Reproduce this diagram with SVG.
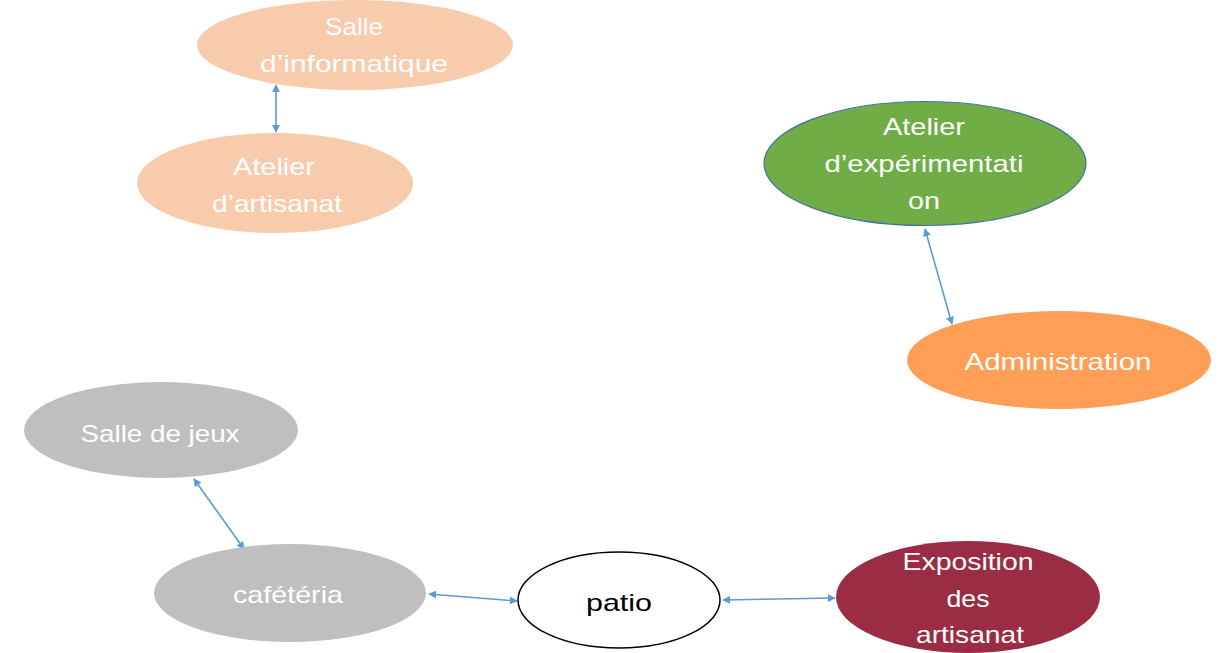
<svg xmlns="http://www.w3.org/2000/svg" width="1221" height="653" viewBox="0 0 1221 653">
<style>
.t{font-family:"Liberation Sans",Arial,sans-serif;font-size:24px;fill:#FFFFFF;text-anchor:middle}
.dk{fill:#000000}
.c{stroke:#5B9BD5;stroke-width:1.6;fill:none;marker-start:url(#ah);marker-end:url(#ah)}
</style>
<defs>
<marker id="ah" viewBox="0 0 10 10" refX="9" refY="5" markerWidth="5" markerHeight="5" orient="auto-start-reverse">
<path d="M0,0 L10,5 L0,10 z" fill="#5B9BD5"/>
</marker>
</defs>
<rect width="1221" height="653" fill="#FFFFFF"/>
<g id="connectors">
<line class="c" x1="276" y1="85" x2="276" y2="132"/>
<line class="c" x1="925" y1="229" x2="952" y2="324"/>
<line class="c" x1="194" y1="479" x2="244" y2="549"/>
<line class="c" x1="429" y1="594" x2="517" y2="601"/>
<line class="c" x1="723" y1="600" x2="835" y2="598"/>
</g>
<g id="salle-informatique">
<ellipse cx="355" cy="45" rx="158" ry="45" fill="#F8CBAD"/>
<text class="t" x="354" y="35" textLength="58" lengthAdjust="spacingAndGlyphs">Salle</text>
<text class="t" x="354" y="72" textLength="188" lengthAdjust="spacingAndGlyphs">d’informatique</text>
</g>
<g id="atelier-artisanat">
<ellipse cx="275" cy="183" rx="138" ry="50" fill="#F8CBAD"/>
<text class="t" x="274" y="175" textLength="82" lengthAdjust="spacingAndGlyphs">Atelier</text>
<text class="t" x="277" y="212" textLength="130" lengthAdjust="spacingAndGlyphs">d’artisanat</text>
</g>
<g id="atelier-experimentation">
<ellipse cx="925" cy="163.5" rx="161" ry="62" fill="#70AD47" stroke="#41719C" stroke-width="1.2"/>
<text class="t" x="924" y="135" textLength="82" lengthAdjust="spacingAndGlyphs">Atelier</text>
<text class="t" x="924" y="172" textLength="199" lengthAdjust="spacingAndGlyphs">d’expérimentati</text>
<text class="t" x="924" y="209" textLength="32" lengthAdjust="spacingAndGlyphs">on</text>
</g>
<g id="administration">
<ellipse cx="1059" cy="360" rx="152" ry="49" fill="#FF9E57"/>
<text class="t" x="1058" y="370" textLength="187" lengthAdjust="spacingAndGlyphs">Administration</text>
</g>
<g id="salle-jeux">
<ellipse cx="161" cy="430" rx="137" ry="48" fill="#BFBFBF"/>
<text class="t" x="160" y="442" textLength="159" lengthAdjust="spacingAndGlyphs">Salle de jeux</text>
</g>
<g id="cafeteria">
<ellipse cx="290" cy="593" rx="136" ry="49" fill="#BFBFBF"/>
<text class="t" x="288" y="603" textLength="110" lengthAdjust="spacingAndGlyphs">cafétéria</text>
</g>
<g id="patio">
<ellipse cx="619" cy="600" rx="101" ry="48" fill="#FFFFFF" stroke="#000000" stroke-width="1.5"/>
<text class="t dk" x="619" y="611" textLength="66" lengthAdjust="spacingAndGlyphs">patio</text>
</g>
<g id="exposition">
<ellipse cx="968" cy="597" rx="132" ry="56" fill="#9A2D43"/>
<text class="t" x="968" y="570" textLength="131" lengthAdjust="spacingAndGlyphs">Exposition</text>
<text class="t" x="968" y="607" textLength="43" lengthAdjust="spacingAndGlyphs">des</text>
<text class="t" x="970" y="643" textLength="108" lengthAdjust="spacingAndGlyphs">artisanat</text>
</g>
</svg>
